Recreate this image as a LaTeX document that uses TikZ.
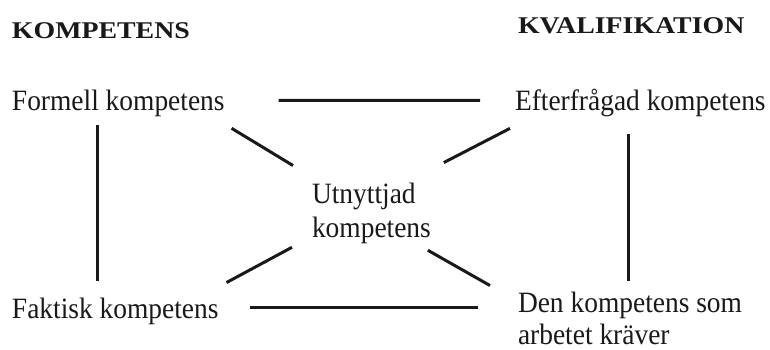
\documentclass[tikz,border=0pt]{standalone}
\usepackage{fontspec}
\setmainfont{Liberation Serif}
\newfontfamily\bodyfont[FakeStretch=0.93]{Liberation Serif}
\newfontfamily\headfont[FakeStretch=1.16]{Liberation Serif}
\usetikzlibrary{calc}
\tikzset{
  lbl/.style={inner sep=0pt, outer sep=0pt, anchor=base west, text=black!90,
    font=\bodyfont\fontsize{29.5}{34}\selectfont},
  head/.style={inner sep=0pt, outer sep=0pt, anchor=base west, text=black!90,
    font=\headfont\bfseries\fontsize{24}{28}\selectfont},
  link/.style={line width=3pt, black!90}
}
\begin{document}
\begin{tikzpicture}[x=1pt,y=-1pt]
\useasboundingbox (0,0) rectangle (770,349);
\node[head] (komp) at (12,38) {KOMPETENS};
\node[head] (kval) at (518,33) {KVALIFIKATION};
\node[lbl] (formell) at (12,110) {Formell kompetens};
\node[lbl] (efter) at (515,110) {Efterfrågad kompetens};
\node[lbl] (faktisk) at (12,318) {Faktisk kompetens};
\node[lbl, align=left] (utn) at (312,237) {Utnyttjad\\kompetens};
\node[lbl, align=left, font=\bodyfont\fontsize{29.5}{32}\selectfont] (den) at (518,344) {Den kompetens som\\arbetet kräver};
\draw[link] ($(formell.south east)+(54,-16)$) -- ($(efter.south west)+(-35,-16)$);
\draw[link] ($(formell.south west)+(85,9)$) -- ($(faktisk.north west)+(85,-17)$);
\draw[link] ($(efter.south west)+(113,18)$) -- ($(den.north west)+(110,-11)$);
\draw[link] ($(formell.south east)+(7,12)$) -- ($(utn.north west)+(-19,-17)$);
\draw[link] ($(efter.south west)+(-5,12)$) -- ($(utn.north east)+(13,-20)$);
\draw[link] ($(faktisk.north east)+(8,-15)$) -- ($(utn.south west)+(-20,4)$);
\draw[link] ($(utn.south east)+(-3,7)$) -- ($(den.north west)+(-28,-6)$);
\draw[link, shorten >=40pt] ($(faktisk.north east)+(31,10)$) coordinate (b0) -- (b0 -| den.west);
\end{tikzpicture}
\end{document}
